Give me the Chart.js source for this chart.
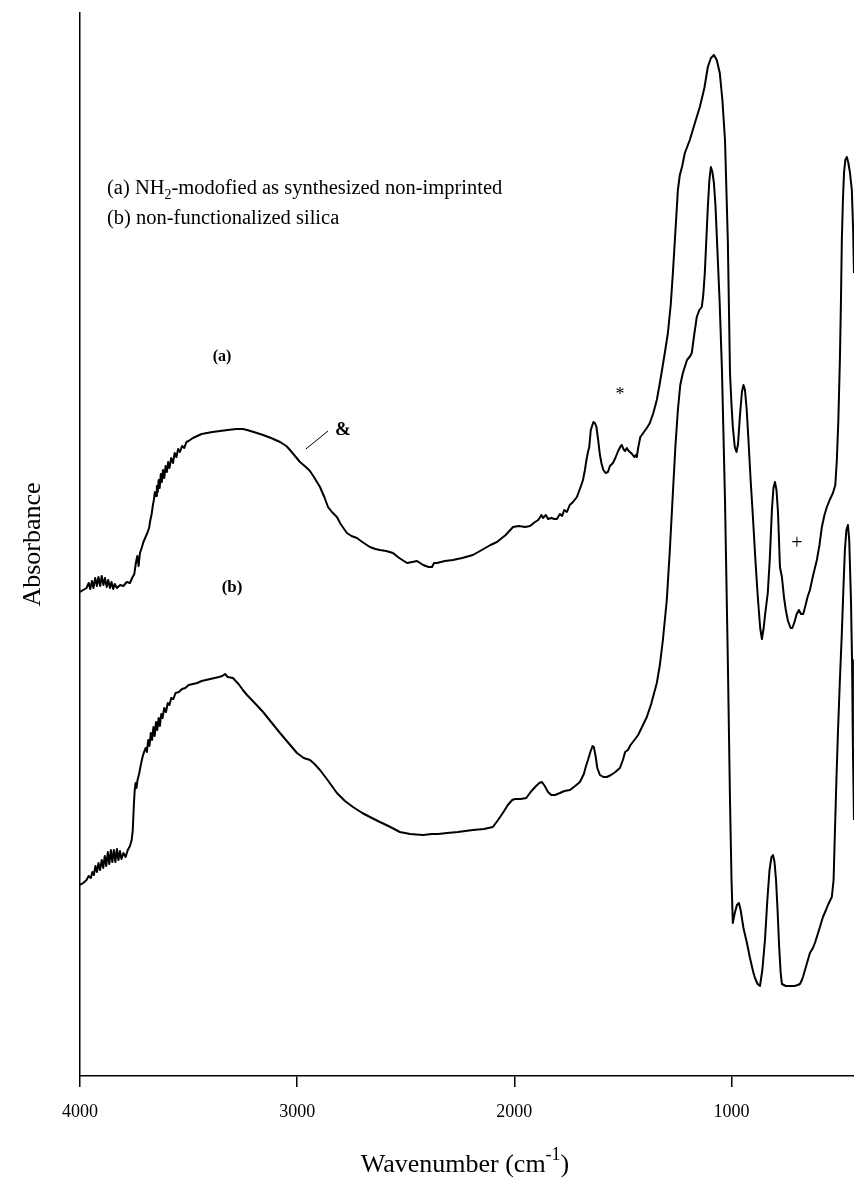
<!DOCTYPE html>
<html>
<head>
<meta charset="utf-8">
<script src="https://cdn.jsdelivr.net/npm/chart.js@4.4.1/dist/chart.umd.min.js"></script>
<style>
  html, body { margin: 0; padding: 0; background: #fff; }
  #wrap { width: 854px; height: 1190px; }
</style>
</head>
<body>
<div id="wrap"><canvas id="c" width="854" height="1190"></canvas></div>
<script>
// FTIR spectra: wavenumber (cm-1) vs absorbance (arbitrary units, offset traces)
const wavenumberTicks = [4000, 3000, 2000, 1000];

// (a) NH2-modified, as synthesized, non-imprinted
const aWavenumber = [
  4000,3985,3970,3960,3953,3945,3938,3930,3922,3915,3907,3900,3892,3885,3877,3870,3862,3855,3847,3840,
  3830,3815,3800,3785,3770,3760,3750,3742,3736,3730,3724,3716,3708,3700,3690,3682,3676,3670,3665,3660,
  3655,3650,3646,3642,3638,3633,3628,3623,3618,3612,3606,3600,3594,3588,3580,3572,3564,3556,3548,3540,
  3530,3520,3510,3500,3480,3460,3440,3415,3390,3355,3320,3280,3250,3231,3200,3157,3120,3079,3050,3033,
  3010,2987,2960,2941,2920,2895,2875,2858,2840,2817,2800,2771,2750,2725,2700,2665,2640,2619,2590,2559,
  2530,2494,2470,2448,2420,2395,2379,2370,2356,2320,2283,2240,2191,2150,2110,2080,2040,2006,1980,1950,
  1928,1905,1890,1875,1868,1855,1845,1830,1815,1804,1790,1780,1770,1758,1745,1730,1712,1700,1690,1684,
  1675,1668,1661,1655,1648,1642,1636,1629,1622,1614,1606,1598,1590,1580,1569,1560,1546,1535,1522,1510,
  1505,1498,1490,1482,1477,1468,1458,1448,1440,1436,1430,1420,1413,1400,1390,1376,1360,1344,1330,1320,
  1305,1293,1280,1270,1258,1247,1238,1228,1215,1192,1170,1146,1125,1109,1095,1081,1068,1054,1042,1030,
  1017,1007,1000,994,985,977,970,961,952,945,938,930,922,912,902,890,879,868,860,852,
  844,833,824,814,807,800,793,786,777,768,758,750,740,728,720,710,700,690,680,670,
  660,650,639,625,607,595,584,572,561,548,533,522,515,508,501,496,492,487,482,476,
  469,462,455,446,440,436
];
const aAbsorbance = [
  .484,.486,.488,.493,.487,.495,.488,.498,.490,.499,.490,.500,.491,.498,.489,.496,.488,.494,.487,.492,
  .488,.491,.490,.494,.493,.498,.502,.514,.520,.510,.523,.528,.534,.538,.543,.548,.556,.562,.570,.576,
  .584,.580,.590,.584,.596,.588,.602,.594,.606,.598,.610,.604,.614,.608,.618,.613,.623,.619,.627,.624,
  .630,.628,.634,.635,.638,.640,.642,.643,.644,.645,.646,.647,.647,.646,.644,.641,.638,.634,.630,.626,
  .620,.614,.609,.605,.598,.589,.579,.569,.564,.559,.552,.543,.540,.538,.534,.529,.527,.526,.525,.523,
  .518,.513,.514,.515,.511,.509,.509,.513,.513,.515,.516,.518,.521,.526,.531,.534,.541,.549,.550,.549,
  .550,.554,.556,.561,.558,.561,.557,.558,.557,.557,.562,.560,.566,.564,.571,.574,.579,.586,.592,.596,
  .606,.616,.624,.629,.646,.650,.654,.653,.649,.636,.621,.612,.606,.603,.604,.610,.613,.618,.625,.630,
  .631,.627,.625,.628,.626,.624,.622,.619,.621,.619,.628,.639,.641,.645,.648,.653,.663,.676,.693,.706,
  .726,.743,.771,.803,.846,.886,.901,.909,.923,.936,.952,.969,.988,1.009,1.018,1.021,1.016,1.003,.976,.936,
  .836,.703,.671,.649,.629,.624,.632,.661,.684,.691,.686,.666,.636,.596,.561,.516,.479,.448,.437,.448,
  .464,.483,.516,.566,.588,.594,.586,.564,.509,.499,.478,.466,.455,.448,.448,.454,.462,.466,.462,.462,
  .470,.479,.486,.500,.516,.531,.549,.561,.569,.576,.583,.591,.616,.656,.716,.776,.836,.876,.903,.916,
  .919,.913,.904,.886,.846,.803
];

// (b) non-functionalized silica
const bWavenumber = [
  4000,3985,3970,3960,3950,3943,3936,3929,3922,3915,3908,3900,3893,3886,3879,3872,3865,3858,3851,3844,
  3837,3830,3823,3816,3809,3800,3790,3780,3770,3762,3757,3752,3748,3744,3740,3735,3728,3720,3712,3705,
  3698,3692,3686,3680,3674,3668,3662,3656,3650,3644,3638,3632,3626,3620,3612,3604,3596,3588,3580,3570,
  3560,3545,3530,3515,3500,3480,3460,3440,3420,3400,3380,3360,3345,3332,3320,3296,3270,3250,3231,3200,
  3157,3120,3079,3040,3001,2970,2941,2920,2895,2860,2817,2780,2743,2700,2665,2619,2580,2527,2480,2421,
  2380,2350,2310,2260,2191,2140,2099,2075,2053,2030,2010,1997,1970,1945,1925,1900,1885,1873,1860,1845,
  1830,1813,1790,1770,1744,1720,1698,1680,1670,1661,1650,1640,1634,1626,1618,1606,1590,1574,1555,1535,
  1514,1500,1490,1477,1465,1454,1430,1410,1390,1370,1344,1330,1316,1298,1284,1270,1258,1247,1236,1224,
  1205,1190,1183,1172,1160,1148,1137,1130,1123,1116,1109,1102,1095,1088,1081,1074,1067,1055,1044,1030,
  1017,1007,1000,994,985,975,966,958,945,929,915,900,892,880,869,858,846,835,825,816,
  809,802,795,788,781,774,768,750,730,710,695,685,676,671,655,639,625,616,600,579,
  565,556,545,538,530,524,517,510,501,492,485,478,471,464,458,450,445,441,436
];
const bAbsorbance = [
  .191,.193,.196,.200,.198,.204,.201,.210,.204,.213,.206,.216,.208,.220,.210,.224,.212,.226,.214,.226,
  .214,.227,.216,.225,.217,.223,.219,.226,.230,.236,.246,.271,.286,.293,.288,.296,.302,.311,.319,.324,
  .328,.324,.336,.330,.343,.336,.349,.340,.354,.346,.358,.350,.362,.358,.368,.364,.373,.371,.378,.377,
  .383,.384,.387,.388,.391,.392,.393,.395,.396,.397,.398,.399,.400,.402,.399,.398,.392,.386,.381,.374,
  .364,.354,.343,.333,.323,.318,.316,.312,.306,.296,.283,.275,.269,.263,.259,.254,.250,.244,.242,.241,
  .242,.242,.243,.244,.246,.247,.249,.256,.263,.271,.276,.277,.277,.278,.284,.290,.293,.294,.290,.284,
  .281,.281,.283,.285,.286,.290,.294,.302,.310,.316,.324,.330,.329,.320,.308,.301,.299,.299,.301,.304,
  .308,.316,.324,.326,.331,.334,.341,.350,.359,.372,.393,.411,.436,.476,.526,.583,.631,.666,.691,.703,
  .716,.720,.723,.741,.759,.766,.769,.781,.803,.836,.869,.896,.909,.904,.893,.871,.836,.776,.706,.576,
  .416,.276,.196,.153,.163,.171,.173,.166,.148,.133,.118,.104,.098,.092,.090,.106,.136,.176,.206,.219,
  .221,.214,.196,.166,.131,.104,.092,.090,.090,.090,.091,.092,.096,.099,.111,.123,.128,.133,.144,.159,
  .166,.171,.176,.179,.196,.243,.296,.343,.396,.443,.486,.526,.546,.551,.536,.476,.416,.329,.256
];

// Band markers and trace labels, placed in data coordinates
const traceLabels = [
  { text: '(a)', wn: 3346, abs: 0.719, weight: 'bold', size: 16 },
  { text: '(b)', wn: 3300, abs: 0.488, weight: 'bold', size: 17 },
  { text: '&',   wn: 2789, abs: 0.646, weight: 'bold', size: 19 },
  { text: '*',   wn: 1514, abs: 0.681, weight: 'normal', size: 18 },
  { text: '+',   wn: 699,  abs: 0.532, weight: 'normal', size: 20 }
];
const leaderLine = { from: [2960, 0.627], to: [2858, 0.645] };

const toPoints = (xs, ys) => xs.map((v, i) => ({ x: v, y: ys[i] }));

const serif = '"Liberation Serif", "Times New Roman", serif';

const textPlugin = {
  id: 'spectrumText',
  afterDraw(chart) {
    const { ctx, scales: { x, y } } = chart;
    ctx.save();
    ctx.fillStyle = '#000';
    ctx.strokeStyle = '#000';

    // legend block
    ctx.textBaseline = 'alphabetic';
    ctx.textAlign = 'left';
    let px = 107;
    ctx.font = '20.5px ' + serif;
    ctx.fillText('(a) NH', px, 194);
    px += ctx.measureText('(a) NH').width;
    ctx.font = '14px ' + serif;
    ctx.fillText('2', px, 199);
    px += ctx.measureText('2').width;
    ctx.font = '20.5px ' + serif;
    ctx.fillText('-modofied as synthesized non-imprinted', px, 194);
    ctx.fillText('(b) non-functionalized silica', 107, 224);

    // trace labels and band markers
    ctx.textAlign = 'center';
    ctx.textBaseline = 'middle';
    traceLabels.forEach(l => {
      ctx.font = l.weight + ' ' + l.size + 'px ' + serif;
      ctx.fillText(l.text, x.getPixelForValue(l.wn), y.getPixelForValue(l.abs));
    });
    ctx.lineWidth = 1;
    ctx.beginPath();
    ctx.moveTo(x.getPixelForValue(leaderLine.from[0]), y.getPixelForValue(leaderLine.from[1]));
    ctx.lineTo(x.getPixelForValue(leaderLine.to[0]), y.getPixelForValue(leaderLine.to[1]));
    ctx.stroke();

    // x-axis title with superscript
    ctx.textAlign = 'left';
    ctx.textBaseline = 'alphabetic';
    const big = '26px ' + serif, sup = '18px ' + serif;
    ctx.font = big;
    const w1 = ctx.measureText('Wavenumber (cm').width;
    const w3 = ctx.measureText(')').width;
    ctx.font = sup;
    const w2 = ctx.measureText('-1').width;
    const sx = 465 - (w1 + w2 + w3) / 2;
    const base = 1172;
    ctx.font = big;
    ctx.fillText('Wavenumber (cm', sx, base);
    ctx.font = sup;
    ctx.fillText('-1', sx + w1, base - 12);
    ctx.font = big;
    ctx.fillText(')', sx + w1 + w2, base);

    // y-axis title
    ctx.translate(33, (y.top + y.bottom) / 2);
    ctx.rotate(-Math.PI / 2);
    ctx.textAlign = 'center';
    ctx.textBaseline = 'middle';
    ctx.font = big;
    ctx.fillText('Absorbance', 0, 0);
    ctx.restore();
  }
};

new Chart(document.getElementById('c'), {
  type: 'line',
  data: {
    datasets: [
      { label: '(a)', data: toPoints(aWavenumber, aAbsorbance) },
      { label: '(b)', data: toPoints(bWavenumber, bAbsorbance) }
    ]
  },
  options: {
    responsive: false,
    animation: false,
    devicePixelRatio: 1,
    layout: { padding: { top: 13, left: 0, right: 0, bottom: 0 } },
    elements: {
      line: { borderColor: '#000', borderWidth: 2, tension: 0, fill: false, borderJoinStyle: 'round' },
      point: { radius: 0 }
    },
    plugins: { legend: { display: false }, tooltip: { enabled: false } },
    scales: {
      x: {
        type: 'linear',
        reverse: true,
        min: 436,
        max: 4000,
        afterBuildTicks: s => { s.ticks = wavenumberTicks.map(v => ({ value: v })); },
        afterFit: s => { s.height = 114; },
        grid: { display: true, drawOnChartArea: false, drawTicks: true, tickLength: 11, color: '#000', lineWidth: 1.5 },
        border: { display: true, color: '#000', width: 1.5 },
        ticks: {
          color: '#000', padding: 14, maxRotation: 0,
          font: { family: serif, size: 18 },
          callback: v => String(v)
        }
      },
      y: {
        type: 'linear',
        min: 0,
        max: 1.063,
        afterFit: s => { s.width = 80; },
        grid: { display: false },
        border: { display: true, color: '#000', width: 1.5 },
        ticks: { display: false }
      }
    }
  },
  plugins: [textPlugin]
});
</script>
</body>
</html>
